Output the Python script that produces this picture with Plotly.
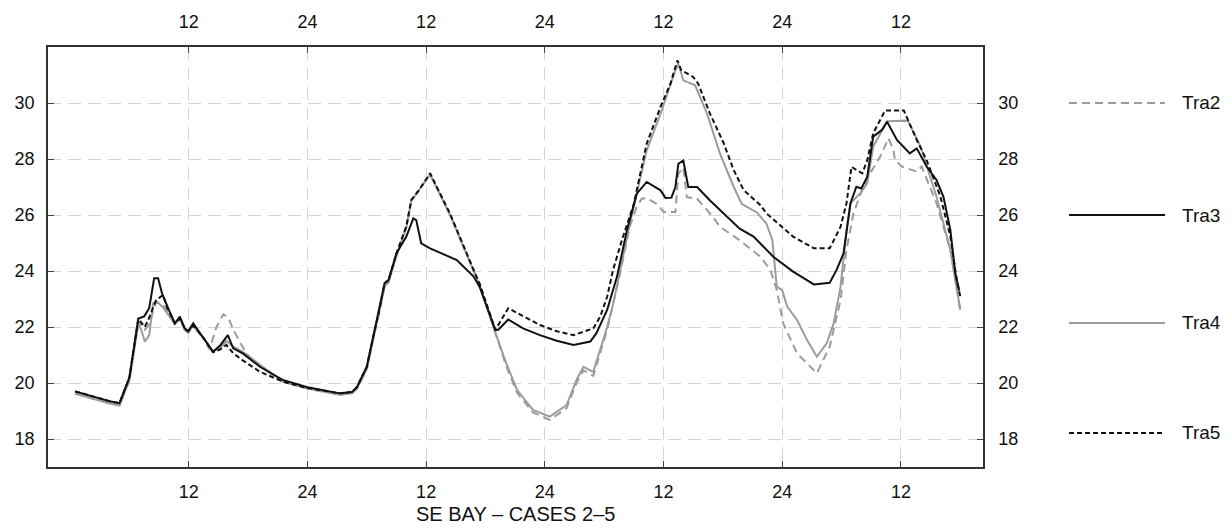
import plotly.graph_objects as go

# ---------------- data (hours, temperature) ----------------
tick_vals = [12, 24, 36, 48, 60, 72, 84]
tick_text = ["12", "24", "12", "24", "12", "24", "12"]
y_ticks = [18, 20, 22, 24, 26, 28, 30]

h_tra3 = [0.5, 2, 4, 5.0, 6.0, 6.9, 7.5, 8.0, 8.5, 8.9, 9.3, 10.0, 10.6, 11.1, 11.6, 11.95, 12.45,
          13.5, 14.45, 15.2, 15.95, 16.5, 17.5, 19.2, 21.5, 24, 27.3, 28.5, 29.0, 30.0, 30.8, 31.2,
          31.8, 32.2, 33.0, 34.0, 34.7, 35.0, 35.5, 36.4, 38.4, 39.1, 40.8, 41.4, 43.0, 43.3, 44.3,
          45.8, 47.5, 49.2, 50.9, 52.6, 53.2, 54.3, 55.3, 56.3, 57.3, 58.3, 59.7, 60.2, 60.8, 61.2,
          61.5, 62.0, 62.5, 63.4, 64.7, 66.4, 67.7, 69.1, 71.1, 73.1, 75.2, 76.8, 77.5, 78.2, 78.9,
          79.5, 80.0, 80.6, 81.2, 82.1, 82.6, 83.6, 84.9, 85.6, 86.6, 87.6, 88.3, 89.0, 89.5, 89.9]
tra3 = [19.70, 19.55, 19.35, 19.28, 20.2, 22.3, 22.38, 22.67, 23.74, 23.74, 23.2, 22.6, 22.13,
        22.37, 21.95, 21.85, 22.13, 21.6, 21.12, 21.35, 21.71, 21.24, 21.05, 20.58, 20.11, 19.85,
        19.63, 19.68, 19.85, 20.58, 21.89, 22.49, 23.56, 23.68, 24.63, 25.23, 25.88, 25.82, 24.99,
        24.81, 24.51, 24.39, 23.80, 23.44, 21.89, 21.9, 22.27, 21.95, 21.71, 21.51, 21.36, 21.48,
        21.77, 22.61, 23.80, 25.46, 26.76, 27.18, 26.88, 26.61, 26.62, 27.0, 27.83, 27.95, 27.0,
        27.0, 26.52, 25.93, 25.51, 25.23, 24.51, 23.98, 23.52, 23.58, 24.04, 24.63, 26.42, 27.01,
        26.95, 27.37, 28.80, 29.04, 29.33, 28.68, 28.20, 28.38, 27.73, 27.25, 26.65, 25.46, 23.92,
        23.3]

h_tra5 = [0.5, 2, 4, 5.0, 6.0, 6.9, 7.55, 7.9, 8.7, 9.4, 9.8, 10.6, 11.1, 11.6, 11.95, 12.45, 13.5,
          14.45, 15.2, 15.8, 16.5, 17.5, 19.2, 21.5, 24, 27.3, 28.5, 29.0, 30.0, 30.8, 31.2, 31.8,
          32.2, 33.0, 34.0, 34.5, 35.3, 36.4, 38.4, 40.8, 41.4, 43.0, 44.3, 47.5, 49.2, 50.9, 52.9,
          53.6, 54.3, 54.9, 55.8, 57.0, 58.3, 59.7, 60.7, 61.4, 61.8, 63.0, 63.5, 64.7, 66.1, 67.1,
          68.1, 69.8, 70.4, 73.1, 75.2, 76.8, 77.9, 78.5, 79.0, 79.5, 80.1, 80.6, 81.2, 82.4, 84.3,
          85.6, 86.6, 88.0, 89.0, 89.7, 90.0]
tra5 = [19.70, 19.55, 19.35, 19.28, 20.2, 22.3, 22.0, 22.25, 22.96, 23.14, 22.7, 22.13, 22.3,
        21.95, 21.85, 22.05, 21.6, 21.1, 21.2, 21.36, 21.06, 20.8, 20.40, 20.05, 19.82, 19.63,
        19.68, 19.85, 20.58, 21.89, 22.49, 23.56, 23.68, 24.63, 25.6, 26.54, 26.9, 27.49, 26.06,
        24.04, 23.56, 21.9, 22.67, 22.07, 21.85, 21.71, 21.95, 22.37, 23.08, 24.04, 25.11, 26.40,
        28.55, 29.86, 30.69, 31.52, 31.17, 30.93, 30.69, 29.62, 28.55, 27.60, 26.89, 26.35, 26.06,
        25.23, 24.81, 24.81, 25.58, 26.42, 27.72, 27.61, 27.49, 27.96, 28.92, 29.73, 29.73, 28.68,
        27.96, 26.65, 25.23, 23.56, 23.1]

h_tra4 = [0.5, 2, 4, 5.0, 6.0, 6.9, 7.2, 7.55, 8.0, 8.4, 8.8, 9.4, 10.6, 11.1, 11.6, 11.95, 12.45,
          13.5, 14.45, 15.2, 15.8, 16.5, 17.5, 19.2, 21.5, 24, 27.3, 28.5, 29.0, 30.0, 30.8, 31.2,
          31.8, 32.2, 33.0, 34.0, 34.5, 35.3, 36.4, 38.4, 40.8, 41.4, 43.0, 44.1, 45.2, 46.8, 48.5,
          50.2, 51.2, 51.9, 52.9, 54.3, 54.9, 55.6, 56.6, 58.3, 59.7, 61.2, 61.5, 62.0, 63.2, 64.4,
          65.7, 67.1, 67.9, 69.4, 70.4, 71.0, 71.45, 72.0, 72.5, 73.5, 74.5, 75.5, 76.5, 77.2, 77.9,
          78.5, 78.9, 79.9, 80.6, 81.2, 82.6, 84.7, 86.0, 87.6, 89.0, 90.0]
tra4 = [19.62, 19.47, 19.27, 19.2, 20.1, 22.1, 21.9, 21.48, 21.7, 22.85, 22.9, 22.7, 22.1, 22.3,
        21.9, 21.8, 22.05, 21.6, 21.12, 21.25, 21.5, 21.3, 21.1, 20.65, 20.05, 19.80, 19.58, 19.63,
        19.8, 20.5, 21.8, 22.4, 23.45, 23.6, 24.55, 25.55, 26.5, 26.9, 27.45, 26.02, 24.0, 23.5,
        21.8, 20.70, 19.75, 19.04, 18.80, 19.21, 20.11, 20.58, 20.40, 22.0, 22.8, 24.0, 25.7,
        28.31, 29.62, 31.17, 31.4, 30.81, 30.63, 29.62, 28.2, 27.0, 26.4, 26.1, 25.70, 25.11,
        23.44, 23.32, 22.73, 22.25, 21.54, 20.94, 21.42, 22.13, 23.44, 25.46, 26.42, 26.78, 27.13,
        28.44, 29.35, 29.37, 28.44, 26.65, 24.75, 22.61]

h_tra2 = [0.5, 2, 4, 5.0, 6.0, 6.9, 7.55, 8.0, 8.7, 9.4, 10.6, 11.1, 11.6, 11.95, 12.45, 13.5, 14.1,
          14.8, 15.5, 16.0, 16.5, 17.8, 19.2, 21.5, 24, 27.3, 28.5, 29.0, 30.0, 30.8, 31.2, 31.8,
          32.2, 33.0, 34.0, 34.5, 35.3, 36.4, 38.4, 40.8, 41.4, 43.0, 44.1, 45.2, 46.8, 48.5, 50.2,
          51.2, 51.9, 52.9, 54.3, 55.6, 56.6, 57.3, 57.8, 58.3, 59.3, 60.0, 61.2, 61.5, 62.0, 62.35,
          63.4, 65.0, 65.7, 67.7, 69.8, 70.8, 71.45, 72.1, 73.5, 75.5, 76.8, 77.9, 78.5, 79.2, 80.2,
          80.9, 81.9, 82.75, 83.25, 83.4, 84.1, 85.6, 86.1, 87.6, 89.0, 90.0]
tra2 = [19.62, 19.47, 19.27, 19.2, 20.1, 22.2, 21.9, 22.1, 22.9, 22.8, 22.1, 22.3, 21.9, 21.8,
        22.05, 21.6, 21.2, 22.0, 22.45, 22.35, 21.9, 21.06, 20.6, 20.05, 19.8, 19.58, 19.63, 19.8,
        20.5, 21.8, 22.4, 23.45, 23.6, 24.55, 25.55, 26.5, 26.9, 27.45, 26.02, 24.0, 23.5, 21.8,
        20.6, 19.65, 18.95, 18.68, 19.1, 20.0, 20.45, 20.26, 21.9, 23.9, 25.6, 26.3, 26.58, 26.6,
        26.40, 26.11, 26.11, 27.48, 27.7, 26.64, 26.58, 25.93, 25.58, 25.10, 24.51, 24.04, 23.32,
        22.13, 21.06, 20.35, 21.30, 22.96, 24.75, 26.06, 27.01, 27.49, 28.08, 28.74, 28.32, 27.96,
        27.73, 27.55, 27.73, 26.42, 24.75, 22.61]

names = ["Tra2", "Tra3", "Tra4", "Tra5"]

# ---------------- styles ----------------
GRAY = "#9c9c9c"
BLACK = "#111111"
styles = {
    "Tra2": dict(color=GRAY, width=2, dash="8px,5px"),
    "Tra3": dict(color=BLACK, width=2, dash="solid"),
    "Tra4": dict(color=GRAY, width=2, dash="solid"),
    "Tra5": dict(color=BLACK, width=2, dash="5px,3px"),
}
FONT = "Liberation Sans, Arial, sans-serif"

fig = go.Figure()
fig.add_trace(go.Scatter(x=h_tra2, y=tra2, mode="lines", name="Tra2", line=styles["Tra2"], showlegend=False))
fig.add_trace(go.Scatter(x=h_tra4, y=tra4, mode="lines", name="Tra4", line=styles["Tra4"], showlegend=False))
fig.add_trace(go.Scatter(x=h_tra3, y=tra3, mode="lines", name="Tra3", line=styles["Tra3"], showlegend=False))
fig.add_trace(go.Scatter(x=h_tra5, y=tra5, mode="lines", name="Tra5", line=styles["Tra5"], showlegend=False,
                         xaxis="x2", yaxis="y2"))

x_range = [-2.23, 92.3]
y_range = [17, 32]
axis_common = dict(
    showline=True, linecolor="#333333", linewidth=1.5,
    ticks="inside", ticklen=6, tickcolor="#444444", tickwidth=1,
    tickfont=dict(family=FONT, size=18, color="#111111"),
    zeroline=False,
)

fig.update_layout(
    width=1232, height=531,
    margin=dict(l=48, r=249, t=47, b=64),
    paper_bgcolor="white", plot_bgcolor="white",
    showlegend=False,
    xaxis=dict(range=x_range, tickmode="array", tickvals=tick_vals, ticktext=tick_text,
               showgrid=True, gridcolor="#d6d6d6", gridwidth=1, griddash="13px,7px",
               ticklabelstandoff=8, **axis_common),
    xaxis2=dict(range=x_range, tickmode="array", tickvals=tick_vals, ticktext=tick_text,
                overlaying="x", side="top", anchor="y2", showgrid=False,
                ticklabelstandoff=10, **axis_common),
    yaxis=dict(range=y_range, tickmode="array", tickvals=y_ticks,
               showgrid=True, gridcolor="#d6d6d6", gridwidth=1, griddash="13px,7px",
               ticklabelstandoff=8, **axis_common),
    yaxis2=dict(range=y_range, tickmode="array", tickvals=y_ticks,
                overlaying="y", side="right", anchor="x2", showgrid=False,
                ticklabelstandoff=10, **axis_common),
)

# title under the plot
fig.add_annotation(text="SE BAY \u2013 CASES 2\u20135", xref="paper", yref="paper", x=0.5, y=-0.112,
                   showarrow=False, xanchor="center", yanchor="middle",
                   font=dict(family=FONT, size=20, color="#111111"))

# manual legend on the right
legend_rows = [0.8667, 0.60, 0.3429, 0.081]
for nm, yy in zip(names, legend_rows):
    st = styles[nm]
    fig.add_shape(type="line", xref="paper", yref="paper", x0=1.092, x1=1.1947, y0=yy, y1=yy,
                  line=dict(color=st["color"], width=2, dash=st["dash"]))
    fig.add_annotation(text=nm, xref="paper", yref="paper", x=1.2107, y=yy, showarrow=False,
                       xanchor="left", yanchor="middle",
                       font=dict(family=FONT, size=19, color="#111111"))

fig.write_html("out.html")
